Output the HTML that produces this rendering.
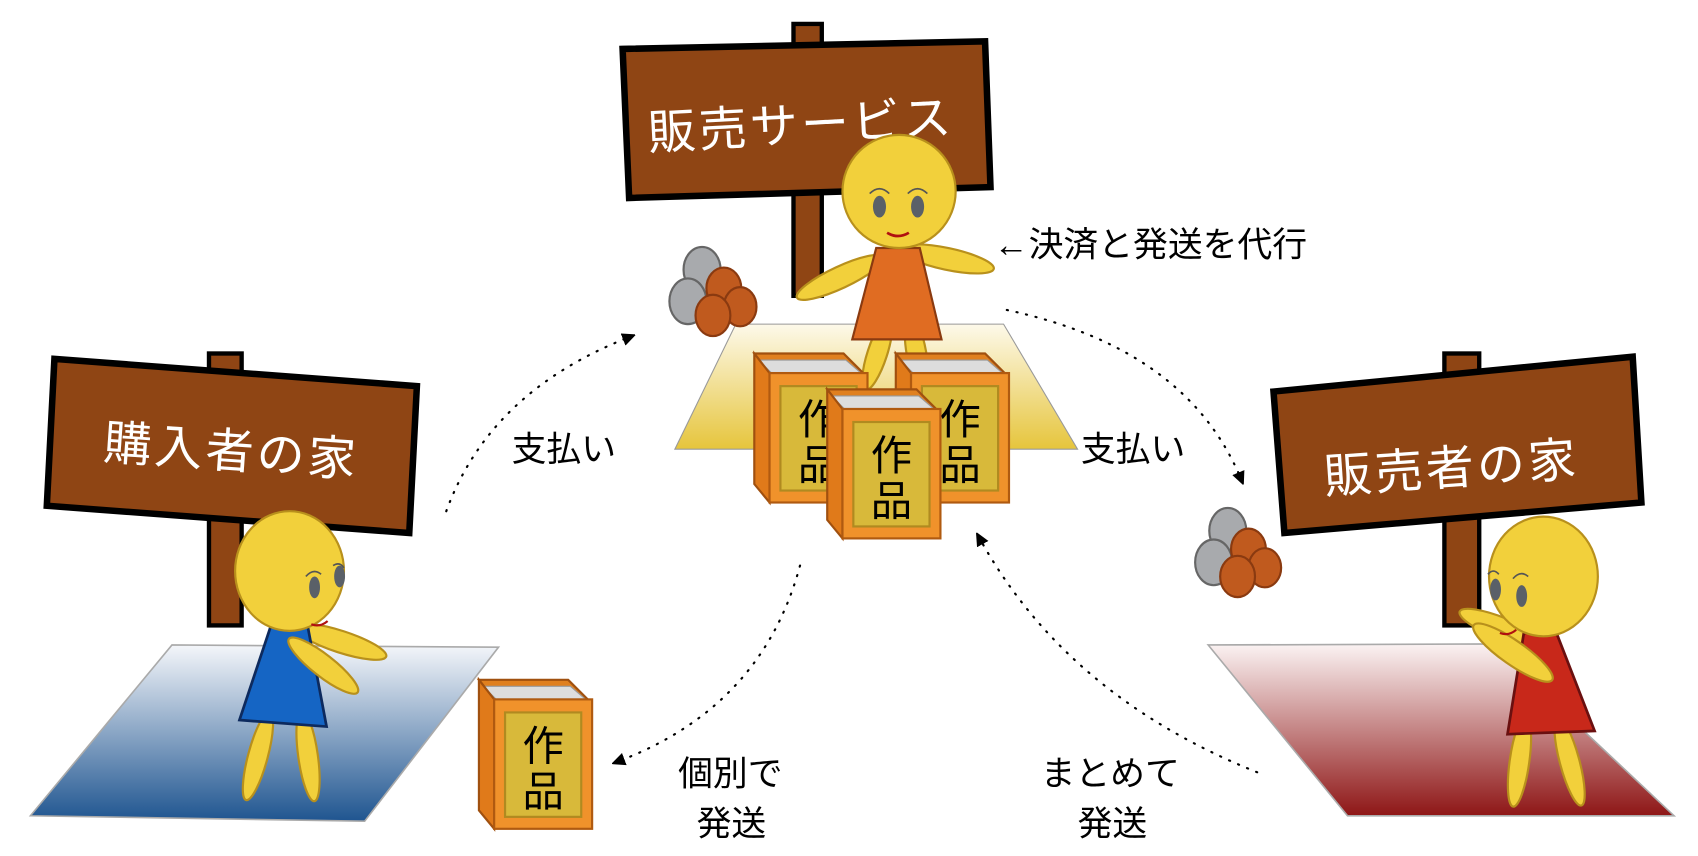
<!DOCTYPE html>
<html><head><meta charset="utf-8"><style>
html,body{margin:0;padding:0;background:#fff;width:1698px;height:856px;overflow:hidden}
svg{display:block}
text{font-family:"Liberation Sans","Noto Sans CJK JP",sans-serif}
</style></head><body>
<svg width="1698" height="856" viewBox="0 0 1560 787" preserveAspectRatio="none" xmlns="http://www.w3.org/2000/svg">
<defs>
<linearGradient id="gy" x1="0" y1="0" x2="0" y2="1"><stop offset="0" stop-color="#fdf9ea"/><stop offset="1" stop-color="#e6c53c"/></linearGradient>
<linearGradient id="gb" x1="0" y1="0" x2="0" y2="1"><stop offset="0" stop-color="#f4f6fa"/><stop offset="1" stop-color="#1f5590"/></linearGradient>
<linearGradient id="gr" x1="0" y1="0" x2="0" y2="1"><stop offset="0" stop-color="#fbf3f3"/><stop offset="1" stop-color="#8e1616"/></linearGradient>
<marker id="ah" markerWidth="12" markerHeight="12" refX="6" refY="6" orient="auto" markerUnits="userSpaceOnUse"><path d="M0,0 L13,6 L0,12 z" fill="#000"/></marker>
</defs>

<polygon points="676,298 922,298 990,413 620,413" fill="url(#gy)" stroke="#999" stroke-width="1"/>
<polygon points="158,593 458,595 335,755 28,750" fill="url(#gb)" stroke="#aaa" stroke-width="1.5"/>
<polygon points="1110,593 1370,592 1538,750 1238,750" fill="url(#gr)" stroke="#aaa" stroke-width="1.5"/>

<rect x="729" y="22" width="26" height="250" fill="#8f4514" stroke="#000" stroke-width="4"/>
<polygon points="572,45 905,38 910,172 578,182" fill="#8f4514" stroke="#000" stroke-width="6"/>
<text x="595" y="130" font-size="44" fill="#fff" letter-spacing="3" transform="rotate(-3 740 115)">販売サービス</text>

<rect x="192" y="325" width="30" height="250" fill="#8f4514" stroke="#000" stroke-width="4"/>
<polygon points="50,330 383,355 376,490 43,465" fill="#8f4514" stroke="#000" stroke-width="6"/>
<text x="95" y="430" font-size="44" fill="#fff" letter-spacing="3" transform="rotate(4 210 415)">購入者の家</text>

<rect x="1327" y="325" width="32" height="250" fill="#8f4514" stroke="#000" stroke-width="4"/>
<polygon points="1170,360 1500,328 1508,462 1180,490" fill="#8f4514" stroke="#000" stroke-width="6"/>
<text x="1215" y="445" font-size="44" fill="#fff" letter-spacing="3" transform="rotate(-4 1340 415)">販売者の家</text>

<g stroke="#666" stroke-width="2">
<ellipse cx="645" cy="248" rx="17" ry="21" fill="#a8aaad"/>
<ellipse cx="632" cy="277" rx="17" ry="21" fill="#a8aaad"/>
<ellipse cx="665" cy="265" rx="16" ry="19" fill="#c05a1e" stroke="#8a3a10"/>
<ellipse cx="680" cy="282" rx="15" ry="18" fill="#c05a1e" stroke="#8a3a10"/>
<ellipse cx="655" cy="290" rx="16" ry="19" fill="#c05a1e" stroke="#8a3a10"/>
</g>
<g stroke="#666" stroke-width="2">
<ellipse cx="1128" cy="488" rx="17" ry="21" fill="#a8aaad"/>
<ellipse cx="1115" cy="517" rx="17" ry="21" fill="#a8aaad"/>
<ellipse cx="1147" cy="505" rx="16" ry="19" fill="#c05a1e" stroke="#8a3a10"/>
<ellipse cx="1162" cy="522" rx="15" ry="18" fill="#c05a1e" stroke="#8a3a10"/>
<ellipse cx="1137" cy="530" rx="16" ry="19" fill="#c05a1e" stroke="#8a3a10"/>
</g>

<g stroke="#b8901c" stroke-width="2" fill="#f2d03b">
<ellipse cx="806" cy="325" rx="9" ry="35" transform="rotate(18 806 325)"/>
<ellipse cx="842" cy="325" rx="9" ry="35" transform="rotate(-10 842 325)"/>
<ellipse cx="772" cy="255" rx="44" ry="10" transform="rotate(-25 772 255)"/>
<ellipse cx="870" cy="238" rx="44" ry="10" transform="rotate(12 870 238)"/>
</g>
<polygon points="805,228 845,228 865,312 783,312" fill="#e06c22" stroke="#8a3a10" stroke-width="2"/>
<circle cx="826" cy="176" r="52" fill="#f2d03b" stroke="#b8901c" stroke-width="2"/>
<ellipse cx="808" cy="190" rx="6" ry="10" fill="#5a6068"/>
<ellipse cx="843" cy="190" rx="6" ry="10" fill="#5a6068"/>
<path d="M799,178 q9,-9 18,0 M834,178 q9,-9 18,0" stroke="#555" stroke-width="1.5" fill="none"/>
<path d="M815,214 q10,6 20,0" stroke="#b01010" stroke-width="2.5" fill="none"/>

<g stroke="#b8901c" stroke-width="2" fill="#f2d03b">
<ellipse cx="237" cy="695" rx="9" ry="42" transform="rotate(15 237 695)"/>
<ellipse cx="283" cy="695" rx="9" ry="42" transform="rotate(-8 283 695)"/>
<ellipse cx="313" cy="590" rx="44" ry="10" transform="rotate(18 313 590)"/>
</g>
<polygon points="250,572 282,572 300,668 220,662" fill="#1565c4" stroke="#0d2a5e" stroke-width="2.5"/>
<ellipse cx="297" cy="612" rx="40" ry="10" transform="rotate(38 297 612)" fill="#f2d03b" stroke="#b8901c" stroke-width="2"/>
<ellipse cx="266" cy="525" rx="50" ry="55" fill="#f2d03b" stroke="#b8901c" stroke-width="2"/>
<ellipse cx="289" cy="540" rx="5" ry="10" fill="#5a6068"/>
<ellipse cx="312" cy="530" rx="5" ry="10" fill="#5a6068"/>
<path d="M281,530 q7,-8 14,-2 M306,520 q6,-4 10,2" stroke="#555" stroke-width="1.5" fill="none"/>
<path d="M286,574 q8,3 15,-3" stroke="#b01010" stroke-width="2" fill="none"/>

<g stroke="#b8901c" stroke-width="2" fill="#f2d03b">
<ellipse cx="1396" cy="700" rx="9" ry="42" transform="rotate(8 1396 700)"/>
<ellipse cx="1442" cy="700" rx="9" ry="42" transform="rotate(-15 1442 700)"/>
<ellipse cx="1380" cy="578" rx="42" ry="10" transform="rotate(22 1380 578)"/>
</g>
<polygon points="1400,582 1430,582 1465,672 1385,675" fill="#c8281a" stroke="#6a1010" stroke-width="2.5"/>
<ellipse cx="1390" cy="600" rx="44" ry="11" transform="rotate(35 1390 600)" fill="#f2d03b" stroke="#b8901c" stroke-width="2"/>
<ellipse cx="1418" cy="530" rx="50" ry="55" fill="#f2d03b" stroke="#b8901c" stroke-width="2"/>
<ellipse cx="1374" cy="542" rx="5" ry="10" fill="#5a6068"/>
<ellipse cx="1398" cy="548" rx="5" ry="10" fill="#5a6068"/>
<path d="M1367,528 q5,-6 10,0 M1390,532 q7,-8 14,-2" stroke="#555" stroke-width="1.5" fill="none"/>
<path d="M1378,582 q8,3 15,-3" stroke="#b01010" stroke-width="2" fill="none"/>

<g transform="translate(693,325)">
<polygon points="0,0 82,0 100,18 14,18" fill="#e0801f" stroke="#a0500f" stroke-width="2"/>
<polygon points="4,6 84,6 98,18 16,18" fill="#ddd" stroke="#999" stroke-width="1"/>
<polygon points="0,0 14,18 14,137 0,120" fill="#e07a1a" stroke="#a0500f" stroke-width="2"/>
<rect x="14" y="18" width="90" height="119" fill="#f0922b" stroke="#b05a10" stroke-width="2"/>
<rect x="24" y="30" width="70" height="96" fill="#d8b93a" stroke="#b08a20" stroke-width="2"/>
<text x="59" y="74" font-size="38" text-anchor="middle" fill="#000">作</text>
<text x="59" y="116" font-size="38" text-anchor="middle" fill="#000">品</text>
</g>
<g transform="translate(823,325)">
<polygon points="0,0 82,0 100,18 14,18" fill="#e0801f" stroke="#a0500f" stroke-width="2"/>
<polygon points="4,6 84,6 98,18 16,18" fill="#ddd" stroke="#999" stroke-width="1"/>
<polygon points="0,0 14,18 14,137 0,120" fill="#e07a1a" stroke="#a0500f" stroke-width="2"/>
<rect x="14" y="18" width="90" height="119" fill="#f0922b" stroke="#b05a10" stroke-width="2"/>
<rect x="24" y="30" width="70" height="96" fill="#d8b93a" stroke="#b08a20" stroke-width="2"/>
<text x="59" y="74" font-size="38" text-anchor="middle" fill="#000">作</text>
<text x="59" y="116" font-size="38" text-anchor="middle" fill="#000">品</text>
</g>
<g transform="translate(760,358)">
<polygon points="0,0 82,0 100,18 14,18" fill="#e0801f" stroke="#a0500f" stroke-width="2"/>
<polygon points="4,6 84,6 98,18 16,18" fill="#ddd" stroke="#999" stroke-width="1"/>
<polygon points="0,0 14,18 14,137 0,120" fill="#e07a1a" stroke="#a0500f" stroke-width="2"/>
<rect x="14" y="18" width="90" height="119" fill="#f0922b" stroke="#b05a10" stroke-width="2"/>
<rect x="24" y="30" width="70" height="96" fill="#d8b93a" stroke="#b08a20" stroke-width="2"/>
<text x="59" y="74" font-size="38" text-anchor="middle" fill="#000">作</text>
<text x="59" y="116" font-size="38" text-anchor="middle" fill="#000">品</text>
</g>
<g transform="translate(440,625)">
<polygon points="0,0 82,0 100,18 14,18" fill="#e0801f" stroke="#a0500f" stroke-width="2"/>
<polygon points="4,6 84,6 98,18 16,18" fill="#ddd" stroke="#999" stroke-width="1"/>
<polygon points="0,0 14,18 14,137 0,120" fill="#e07a1a" stroke="#a0500f" stroke-width="2"/>
<rect x="14" y="18" width="90" height="119" fill="#f0922b" stroke="#b05a10" stroke-width="2"/>
<rect x="24" y="30" width="70" height="96" fill="#d8b93a" stroke="#b08a20" stroke-width="2"/>
<text x="59" y="74" font-size="38" text-anchor="middle" fill="#000">作</text>
<text x="59" y="116" font-size="38" text-anchor="middle" fill="#000">品</text>
</g>

<g fill="none" stroke="#000" stroke-width="2" stroke-dasharray="1 8" stroke-linecap="round">
<path d="M410,470 Q450,360 578,310" marker-end="url(#ah)"/>
<path d="M925,285 Q1090,320 1140,440" marker-end="url(#ah)"/>
<path d="M735,520 Q700,650 568,700" marker-end="url(#ah)"/>
<path d="M1155,710 Q980,640 900,495" marker-end="url(#ah)"/>
</g>

<g font-size="32" fill="#000">
<text x="913" y="236">←決済と発送を代行</text>
<text x="470" y="424">支払い</text>
<text x="993" y="424">支払い</text>
<text x="623" y="722">個別で</text>
<text x="640" y="768">発送</text>
<text x="956" y="722">まとめて</text>
<text x="990" y="768">発送</text>
</g>
</svg>
</body></html>
